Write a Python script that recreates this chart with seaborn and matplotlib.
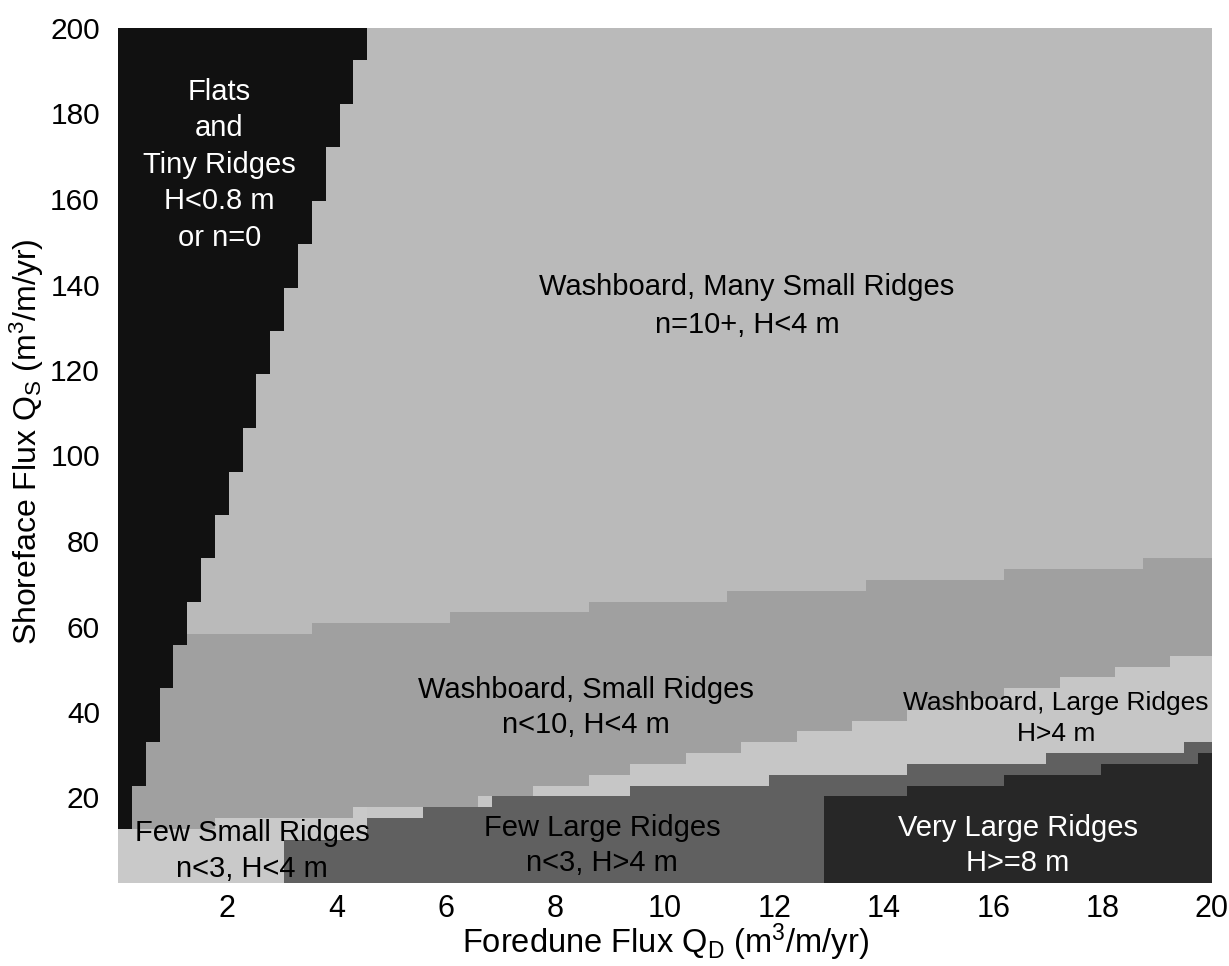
import numpy as np
import matplotlib
matplotlib.use("Agg")
import matplotlib.pyplot as plt
from matplotlib.colors import ListedColormap
import seaborn as sns

# Regime grid: 79 x 79 cells spanning Q_D = 0..20 and Q_S = 0..200
n_cells = 79
qd_max, qs_max = 20, 200

# Regime codes and their grey levels
regimes = ["Flats", "Many Small", "Washboard Small", "Washboard Large",
           "Few Small", "Few Large", "Very Large"]
regime_colors = ["#111111", "#bababa", "#a0a0a0", "#c6c6c6",
                 "#c9c9c9", "#606060", "#272727"]

# First row of the flats regime for each of the leftmost columns
flats_start_row = [5, 9, 13, 18, 22, 26, 30, 34, 38, 42, 47, 51, 55, 59,
                   63, 68, 72, 76]

# Top of the "washboard, small ridges" band (column where the step starts, row)
wash_small_cols = [0, 14, 24, 34, 44, 54, 64, 74]
wash_small_rows = [23, 24, 25, 26, 27, 28, 29, 30]

# Top of the light band (few small ridges on the left, washboard large on the right)
light_cols = [0, 7, 17, 26, 30, 34, 37, 41, 45, 49, 53, 57, 61, 64, 68, 72, 76]
light_rows = [5, 6, 7, 8, 9, 10, 11, 12, 13, 14, 15, 16, 17, 18, 19, 20, 21]
few_small_last_col = 17

# Top of the "few large ridges" region
few_large_cols = [0, 12, 18, 22, 27, 37, 47, 57, 67, 77]
few_large_rows = [0, 4, 6, 7, 8, 9, 10, 11, 12, 13]

# Top of the "very large ridges" region
very_large_cols = [0, 51, 57, 64, 71, 78]
very_large_rows = [0, 8, 9, 10, 11, 12]


def expand(cols, rows):
    edges = list(cols) + [n_cells]
    return np.repeat(rows, np.diff(edges))


wash_small_top = expand(wash_small_cols, wash_small_rows)
light_top = expand(light_cols, light_rows)
few_large_top = expand(few_large_cols, few_large_rows)
very_large_top = expand(very_large_cols, very_large_rows)
flats_start = np.full(n_cells, n_cells)
flats_start[:len(flats_start_row)] = flats_start_row

grid = np.full((n_cells, n_cells), 1)
for c in range(n_cells):
    grid[:wash_small_top[c], c] = 2
    grid[:light_top[c], c] = 4 if c <= few_small_last_col else 3
    grid[:few_large_top[c], c] = 5
    grid[:very_large_top[c], c] = 6
    grid[flats_start[c]:, c] = 0

sns.set_theme(style="white")
plt.rcParams["font.family"] = ["Liberation Sans", "DejaVu Sans"]
plt.rcParams["mathtext.fontset"] = "custom"
plt.rcParams["mathtext.rm"] = "Liberation Sans"
plt.rcParams["mathtext.it"] = "Liberation Sans:italic"

fig = plt.figure(figsize=(12.29, 9.66), dpi=100)
ax = fig.add_axes([118 / 1229, 1 - 883 / 966, 1094 / 1229, 855 / 966])

sns.heatmap(grid, ax=ax, cmap=ListedColormap(regime_colors), vmin=-0.5,
            vmax=len(regimes) - 0.5, cbar=False, linewidths=0,
            xticklabels=False, yticklabels=False, rasterized=True)
ax.invert_yaxis()
for s in ax.spines.values():
    s.set_visible(False)

xtick_vals = [2, 4, 6, 8, 10, 12, 14, 16, 18, 20]
ytick_vals = [20, 40, 60, 80, 100, 120, 140, 160, 180, 200]
ax.set_xticks(np.array(xtick_vals) / qd_max * n_cells)
ax.set_xticklabels([str(v) for v in xtick_vals])
ax.set_yticks(np.array(ytick_vals) / qs_max * n_cells)
ax.set_yticklabels([str(v) for v in ytick_vals], rotation=0)
ax.tick_params(axis="x", length=0, pad=8, labelsize=22, colors="black")
ax.tick_params(axis="y", length=0, pad=13, labelsize=21.5, colors="black")

ax.set_xlabel(r"Foredune Flux Q$_\mathrm{D}$ (m$^3$/m/yr)", fontsize=23.5,
              color="black")
ax.xaxis.set_label_coords(0.5, -0.045)
ax.set_ylabel(r"Shoreface Flux Q$_\mathrm{S}$ (m$^3$/m/yr)", fontsize=23,
              color="black")
ax.yaxis.set_label_coords(-0.066, 0.516)


def label(qd, qs, text, color="black", size=21, spacing=1.33):
    ax.text(qd / qd_max * n_cells, qs / qs_max * n_cells, text, color=color,
            fontsize=size, ha="center", va="center", linespacing=spacing)


label(1.85, 168, "Flats\nand\nTiny Ridges\nH<0.8 m\nor n=0", color="white",
      spacing=1.38)
label(11.5, 135, "Washboard, Many Small Ridges\nn=10+, H<4 m", spacing=1.45)
label(8.55, 41, "Washboard, Small Ridges\nn<10, H<4 m")
label(17.15, 38.5, "Washboard, Large Ridges\nH>4 m", size=19)
label(2.45, 7.5, "Few Small Ridges\nn<3, H<4 m")
label(8.85, 8.8, "Few Large Ridges\nn<3, H>4 m")
label(16.45, 8.8, "Very Large Ridges\nH>=8 m", color="white")

fig.savefig("out.png", dpi=100)
